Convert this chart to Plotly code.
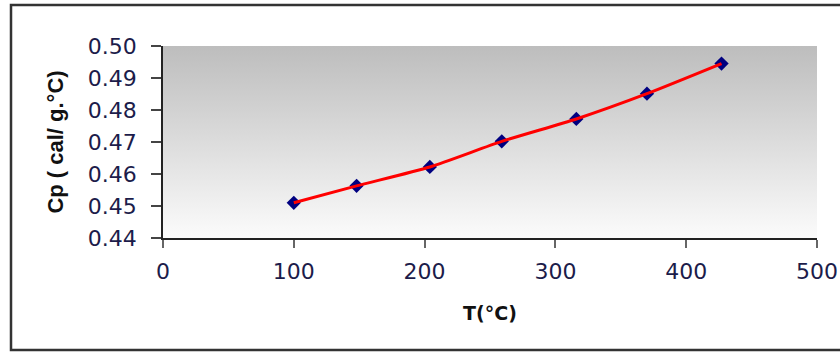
import plotly.graph_objects as go

# Specific heat of the sample versus temperature
temperature_c = [100, 148, 204, 259, 316, 370, 427]
cp_cal_g_c = [0.4510, 0.4563, 0.4622, 0.4702, 0.4772, 0.4851, 0.4945]

x_range = [0, 500]
y_range = [0.44, 0.50]
x_ticks = [0, 100, 200, 300, 400, 500]
y_ticks = [0.44, 0.45, 0.46, 0.47, 0.48, 0.49, 0.50]

fig = go.Figure()

# Plot-area background: vertical grey gradient (darker at the top)
fig.add_trace(go.Scatter(
    x=[x_range[0], x_range[1], x_range[1], x_range[0], x_range[0]],
    y=[y_range[0], y_range[0], y_range[1], y_range[1], y_range[0]],
    mode="none",
    fill="toself",
    fillgradient=dict(
        type="vertical",
        colorscale=[[0.0, "#fbfbfb"], [1.0, "#bdbdbd"]],
    ),
    hoverinfo="skip",
    showlegend=False,
))

# Measured points
fig.add_trace(go.Scatter(
    x=temperature_c, y=cp_cal_g_c,
    mode="markers",
    marker=dict(symbol="diamond", size=11, color="#000080"),
    showlegend=False,
))

# Trend line drawn over the points
fig.add_trace(go.Scatter(
    x=temperature_c, y=cp_cal_g_c,
    mode="lines",
    line=dict(color="#ff0000", width=3, shape="spline", smoothing=0.6),
    showlegend=False,
))

tick_font = dict(family="DejaVu Sans", size=22, color="#1c1c4a")

fig.update_xaxes(
    range=x_range, tickvals=x_ticks, ticktext=[str(v) for v in x_ticks],
    automargin=False,
    showgrid=False, zeroline=False,
    showline=True, linecolor="#222222", linewidth=1.5,
    ticks="outside", ticklen=8, tickwidth=2, tickcolor="#666666",
    tickfont=tick_font, ticklabelstandoff=5,
    title=dict(text="T(°C)", font=dict(family="DejaVu Sans", size=19,
                                        color="#111111", weight="bold"),
               standoff=24),
)
fig.update_yaxes(
    range=y_range, tickvals=y_ticks, ticktext=[f"{v:.2f}" for v in y_ticks],
    automargin=False,
    showgrid=False, zeroline=False,
    showline=True, linecolor="#222222", linewidth=1.5,
    ticks="outside", ticklen=10, tickwidth=1.5, tickcolor="#444444",
    tickfont=tick_font, ticklabelstandoff=10,
    title=dict(text="Cp ( cal/ g.°C)", font=dict(family="Liberation Sans", size=22,
                                                  color="#111111", weight="bold"),
               standoff=18),
)

# Chart frame (right edge runs off the page)
fig.add_shape(
    type="rect", xref="paper", yref="paper",
    x0=(11 - 163) / 654, x1=(850 - 163) / 654,
    y0=-(350 - 238) / 192, y1=(238 - 5) / 192,
    line=dict(color="#333333", width=2.5),
    fillcolor="rgba(0,0,0,0)", layer="below",
)

fig.update_layout(
    width=840, height=352,
    margin=dict(l=163, r=23, t=46, b=114),
    paper_bgcolor="#ffffff", plot_bgcolor="#ffffff",
    showlegend=False,
)

fig.write_html("out.html")
